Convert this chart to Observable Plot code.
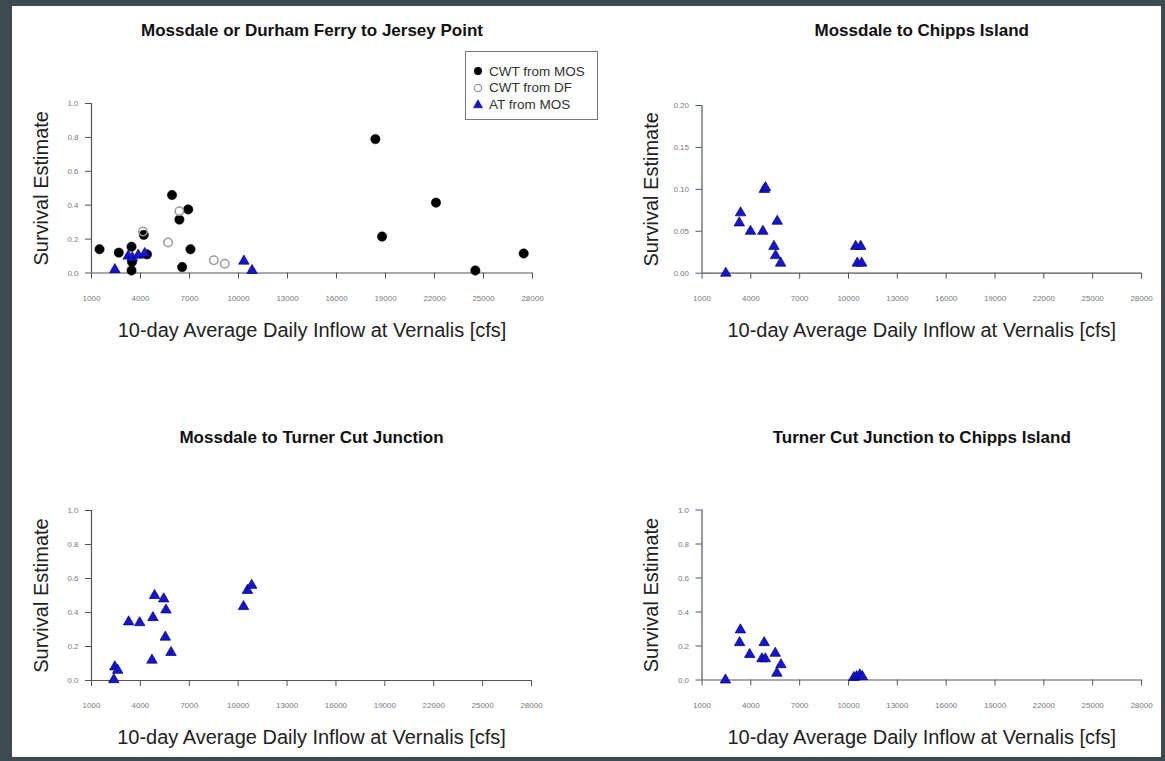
<!DOCTYPE html>
<html><head><meta charset="utf-8">
<script src="https://cdn.jsdelivr.net/npm/d3@7"></script>
<script src="https://cdn.jsdelivr.net/npm/@observablehq/plot@0.6"></script>
<style>
html,body{margin:0;padding:0;background:#3d4b51;width:1165px;height:761px;overflow:hidden;font-family:"Liberation Sans",Arial,sans-serif}
#page{position:absolute;left:12px;top:6px;width:1149px;height:751px;background:#fff}
.panel{position:absolute}
.panel svg{background:transparent !important;overflow:visible}
#legend{position:absolute;left:465px;top:51px;width:131px;height:67px;border:1px solid #777;background:#fff;font-size:13.5px;color:#333}
#legend .row{position:absolute;left:7px;height:16px;line-height:16px;white-space:nowrap}
#legend svg{vertical-align:middle;margin-right:6px;position:relative;top:-1px}
</style></head><body>
<div id="page"></div>
<div id="A" class="panel" style="left:0;top:0"></div>
<div id="B" class="panel" style="left:580px;top:0"></div>
<div id="C" class="panel" style="left:0;top:400px"></div>
<div id="D" class="panel" style="left:580px;top:400px"></div>
<div id="legend"></div>
<script>
// ---- tick values ----
const xTicks = [1000, 4000, 7000, 10000, 13000, 16000, 19000, 22000, 25000, 28000];
const yTicks1 = [0, 0.2, 0.4, 0.6, 0.8, 1.0];
const yTicks02 = [0, 0.05, 0.10, 0.15, 0.20];

const xLabel = "10-day Average Daily Inflow at Vernalis [cfs]";
const yLabel = "Survival Estimate";
const seriesNames = ["CWT from MOS", "CWT from DF", "AT from MOS"];

// ---- Panel A: Mossdale or Durham Ferry to Jersey Point ----
const aCwtMosX = [1490, 2670, 3450, 3480, 3450, 4200, 4400, 5930, 6380, 6920, 7060, 6550, 18380, 18790, 22090, 24500, 27460];
const aCwtMosY = [0.14, 0.12, 0.155, 0.065, 0.015, 0.225, 0.11, 0.46, 0.315, 0.375, 0.14, 0.035, 0.79, 0.215, 0.415, 0.015, 0.115];
const aCwtDfX = [4150, 5690, 6380, 8490, 9160];
const aCwtDfY = [0.245, 0.18, 0.365, 0.075, 0.055];
const aAtMosX = [2430, 3250, 3500, 3860, 4260, 10330, 10830];
const aAtMosY = [0.02, 0.10, 0.09, 0.105, 0.115, 0.07, 0.015];

// ---- Panel B: Mossdale to Chipps Island (AT) ----
const bX = [2460, 3370, 3290, 3980, 4740, 4830, 4900, 5620, 5420, 5520, 5830, 10440, 10750, 10540, 10810];
const bY = [0.0, 0.072, 0.060, 0.050, 0.050, 0.100, 0.102, 0.062, 0.032, 0.021, 0.012, 0.032, 0.032, 0.012, 0.012];

// ---- Panel C: Mossdale to Turner Cut Junction (AT) ----
const cX = [2370, 2430, 2610, 3280, 3960, 4770, 4710, 4870, 5430, 5570, 5530, 5880, 10330, 10570, 10830];
const cY = [0.005, 0.08, 0.06, 0.345, 0.34, 0.37, 0.12, 0.50, 0.48, 0.415, 0.255, 0.165, 0.435, 0.53, 0.56];

// ---- Panel D: Turner Cut Junction to Chipps Island (AT) ----
const dX = [2440, 3360, 3310, 3930, 4820, 4680, 4890, 5500, 5850, 5600, 10330, 10500, 10700, 10850];
const dY = [0.0, 0.295, 0.22, 0.15, 0.22, 0.125, 0.125, 0.157, 0.09, 0.04, 0.015, 0.02, 0.03, 0.02];

const toRows = (xs, ys) => xs.map((x, i) => ({x, y: ys[i]}));

const COL_BLACK = "#000";
const COL_GRAY = "#9a9a9a";
const COL_BLUE = "#1515cc";

function panel(id, cfg) {
  const marks = [
    Plot.ruleY([0], {x1: 1000, x2: 28000, stroke: "#555", strokeWidth: 1.2}),
    Plot.ruleX([1000], {y1: 0, y2: cfg.yMax, stroke: "#555", strokeWidth: 1.2}),
    Plot.axisX(xTicks, {tickSize: 6, tickPadding: 16, fontSize: 8, stroke: "#555", fill: "#7a7a7a", tickFormat: d => String(d), label: null}),
    Plot.axisY(cfg.yTicks, {tickSize: 6, tickPadding: 7, fontSize: 8, stroke: "#555", fill: "#7a7a7a", tickFormat: cfg.yFmt, label: null}),
    Plot.text([cfg.title], {text: d => d, frameAnchor: "top", lineAnchor: "middle", textAnchor: "middle", dy: cfg.titleDy, fontWeight: "bold", fontSize: 17, fill: "#111"}),
    Plot.text([xLabel], {text: d => d, frameAnchor: "bottom", lineAnchor: "middle", textAnchor: "middle", dy: 57.5, fontSize: 20, fill: "#222"}),
    Plot.text([yLabel], {text: d => d, frameAnchor: "left", lineAnchor: "middle", textAnchor: "middle", rotate: -90, dx: -50, fontSize: 20, fill: "#222"})
  ];
  for (const s of cfg.series) {
    if (s.kind === "cwtMos") marks.push(Plot.dot(s.rows, {x: "x", y: "y", r: 4.7, fill: COL_BLACK, stroke: "#000", strokeWidth: 0.5}));
    if (s.kind === "cwtDf") marks.push(Plot.dot(s.rows, {x: "x", y: "y", r: 4.2, fill: "none", stroke: COL_GRAY, strokeWidth: 1.5}));
    if (s.kind === "atMos") marks.push(Plot.dot(s.rows, {x: "x", y: "y", r: 3.9, symbol: "triangle", fill: COL_BLUE, stroke: "#000080", strokeWidth: 0.7}));
  }
  const p = Plot.plot({
    width: 580, height: 400,
    marginLeft: cfg.mL, marginRight: cfg.mR, marginTop: cfg.mT, marginBottom: cfg.mB,
    style: {background: "transparent", fontFamily: "'Liberation Sans', Arial, sans-serif", overflow: "visible"},
    x: {domain: [1000, 28000]},
    y: {domain: [0, cfg.yMax]},
    marks
  });
  document.getElementById(id).appendChild(p);
}

const f1 = d3.format(".1f"), f2 = d3.format(".2f");

panel("A", {title: "Mossdale or Durham Ferry to Jersey Point", titleDy: -73,
  yMax: 1.0, yTicks: yTicks1, yFmt: f1, mL: 91, mR: 48, mT: 103, mB: 127.5,
  series: [{kind: "cwtMos", rows: toRows(aCwtMosX, aCwtMosY)}, {kind: "cwtDf", rows: toRows(aCwtDfX, aCwtDfY)}, {kind: "atMos", rows: toRows(aAtMosX, aAtMosY)}]});
panel("B", {title: "Mossdale to Chipps Island", titleDy: -75,
  yMax: 0.20, yTicks: yTicks02, yFmt: f2, mL: 121.5, mR: 19, mT: 105, mB: 127.3,
  series: [{kind: "atMos", rows: toRows(bX, bY)}]});
panel("C", {title: "Mossdale to Turner Cut Junction", titleDy: -73,
  yMax: 1.0, yTicks: yTicks1, yFmt: f1, mL: 91, mR: 49, mT: 110, mB: 120,
  series: [{kind: "atMos", rows: toRows(cX, cY)}]});
panel("D", {title: "Turner Cut Junction to Chipps Island", titleDy: -72.5,
  yMax: 1.0, yTicks: yTicks1, yFmt: f1, mL: 121.5, mR: 19, mT: 109.5, mB: 120.5,
  series: [{kind: "atMos", rows: toRows(dX, dY)}]});

// legend
const lg = document.getElementById("legend");
const sym = [
  '<svg width="10" height="10"><circle cx="5" cy="5" r="4" fill="#000"/></svg>',
  '<svg width="10" height="10"><circle cx="5" cy="5" r="3.6" fill="none" stroke="#9a9a9a" stroke-width="1.3"/></svg>',
  '<svg width="10" height="10"><path d="M5,0.8L9.5,8.8L0.5,8.8Z" fill="#1515cc" stroke="#000080" stroke-width="0.6"/></svg>'
];
seriesNames.forEach((name, i) => {
  const r = document.createElement("div");
  r.className = "row";
  r.style.top = (11.5 + i * 16.7) + "px";
  r.innerHTML = sym[i] + '<span>' + name + '</span>';
  lg.appendChild(r);
});
</script>
</body></html>
